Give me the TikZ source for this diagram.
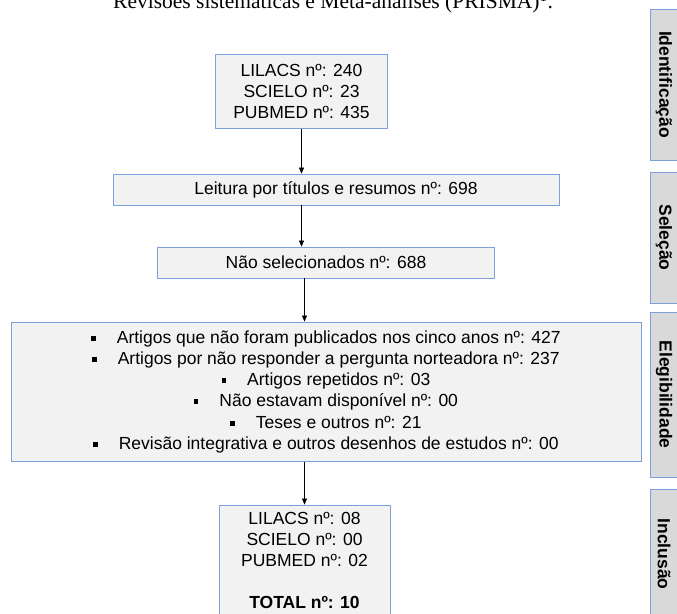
\documentclass[tikz,border=0pt]{standalone}
\usepackage{fontspec}
\setmainfont{Liberation Sans}
\newfontfamily\titlefont{Liberation Serif}
\usetikzlibrary{arrows.meta}
\definecolor{boxfill}{HTML}{F2F2F2}
\definecolor{boxline}{HTML}{7F9FDB}
\definecolor{sidefill}{HTML}{D9D9D9}
\newcommand{\bul}{\rule[2.5pt]{4.5pt}{5pt}\hspace{21pt}}
\begin{document}
\begin{tikzpicture}[x=1pt,y=-1pt,
  box/.style={draw=boxline, fill=boxfill, line width=0.8pt, inner sep=0pt, align=center,
    font=\fontsize{17.5}{21.2}\selectfont},
  side/.style={draw=boxline, fill=sidefill, line width=0.8pt, inner sep=0pt, rotate=-90,
    minimum height=28pt, font=\bfseries\fontsize{17.5}{21}\selectfont},
  arr/.style={-{Triangle[length=6pt,width=5pt]}, line width=0.6pt}]
\useasboundingbox (0,0) rectangle (677,613);
\clip (0,0) rectangle (677,613);
\fill[white] (0,0) rectangle (677,613);
\node[anchor=base west, inner sep=0pt, font=\titlefont\fontsize{21.5}{25}\selectfont] (title) at (113,9)
  {Revisões sistemáticas e Meta-análises (PRISMA)\textsuperscript{1}.};
\node[box, minimum width=172pt, minimum height=74pt] (src) at (301.5,91.5)
  {LILACS nº: 240\\SCIELO nº: 23\\PUBMED nº: 435};
\node[box, minimum width=446pt, minimum height=31pt] (read) at (336,189.5)
  {Leitura por títulos e resumos nº: 698};
\node[box, minimum width=337pt, minimum height=31pt] (nsel) at (326,262.5)
  {Não selecionados nº: 688};
\node[box, minimum width=630pt, minimum height=139.5pt] (elig) at (326,391.7)
  {\bul Artigos que não foram publicados nos cinco anos nº: 427\\
   \bul Artigos por não responder a pergunta norteadora nº: 237\\
   \bul Artigos repetidos nº: 03\\
   \bul Não estavam disponível nº: 00\\
   \bul Teses e outros nº: 21\\
   \bul Revisão integrativa e outros desenhos de estudos nº: 00};
\node[box, minimum width=171pt, minimum height=111pt] (incl) at (304.5,560.5)
  {LILACS nº: 08\\SCIELO nº: 00\\PUBMED nº: 02\\\mbox{}\\\textbf{TOTAL nº: 10}};
\node[side, minimum width=151pt] (s1) at (664,84.5) {Identificação};
\node[side, minimum width=131pt] (s2) at (664,237.5) {Seleção};
\node[side, minimum width=165pt] (s3) at (664,394.5) {Elegibilidade};
\node[side, minimum width=130pt] (s4) at (664,554) {Inclusão};
\draw[arr] (src.south) -- (read.north -| src.south);
\draw[arr] (read.south -| src.south) -- (nsel.north -| src.south);
\draw[arr] (nsel.south -| incl.north) -- (elig.north -| incl.north);
\draw[arr] (elig.south -| incl.north) -- (incl.north);
\end{tikzpicture}
\end{document}
